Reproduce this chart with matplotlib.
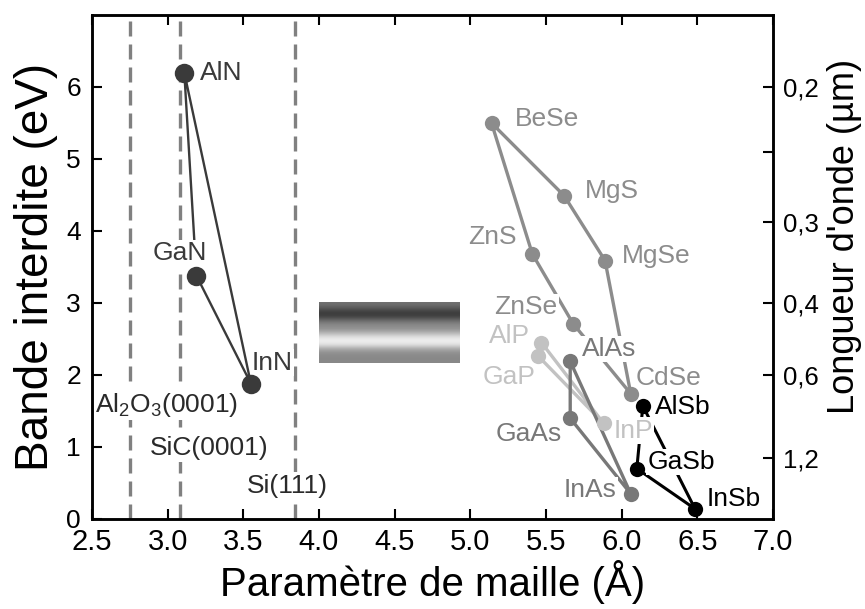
import numpy as np
import matplotlib
matplotlib.use("Agg")
import matplotlib.pyplot as plt

plt.rcParams["font.family"] = ["Liberation Sans", "DejaVu Sans"]
plt.rcParams["mathtext.fontset"] = "custom"
plt.rcParams["mathtext.rm"] = "Liberation Sans"
plt.rcParams["mathtext.it"] = "Liberation Sans:italic"

# --- data: lattice parameter (A) and band gap (eV) ---
nitride_names = ["AlN", "GaN", "InN"]
nitride_a = [3.11, 3.19, 3.55]
nitride_eg = [6.20, 3.38, 1.88]

# II-VI, listed around the outline of the polygon
ii_vi_names = ["BeSe", "MgS", "MgSe", "CdSe", "ZnSe", "ZnS"]
ii_vi_a = [5.14, 5.62, 5.89, 6.06, 5.68, 5.41]
ii_vi_eg = [5.50, 4.49, 3.59, 1.74, 2.71, 3.68]

phos_names = ["AlP", "GaP", "InP"]
phos_a = [5.47, 5.45, 5.88]
phos_eg = [2.45, 2.26, 1.33]

ars_names = ["AlAs", "GaAs", "InAs"]
ars_a = [5.66, 5.66, 6.06]
ars_eg = [2.19, 1.40, 0.35]

sb_names = ["AlSb", "GaSb", "InSb"]
sb_a = [6.14, 6.10, 6.485]
sb_eg = [1.57, 0.70, 0.14]

substrate_names = [r"Al$_2$O$_3$(0001)", "SiC(0001)", "Si(111)"]
substrate_a = [2.75, 3.08, 3.84]

x_ticks = [2.5, 3.0, 3.5, 4.0, 4.5, 5.0, 5.5, 6.0, 6.5, 7.0]
y_ticks = [0, 1, 2, 3, 4, 5, 6]
wl_labels = ["0,2", "", "0,3", "0,4", "0,6", "1,2"]
wl_eg = [6.0, 5.1, 4.13, 3.0, 2.0, 0.85]

# visible band drawn as grey levels, top to bottom
spectrum_grey = [112, 90, 58, 64, 104, 136, 144, 176, 221, 242, 224, 168, 144, 136, 136]

fig = plt.figure(figsize=(8.65, 6.09), dpi=100)
ax = fig.add_axes([92 / 865, 1 - 519 / 609, 681 / 865, 504 / 609])

# substrates
for a in substrate_a:
    ax.axvline(a, color="#808080", lw=2.4, dashes=(4.5, 2.4), zorder=1)
sub_label_xy = [(2.52, 1.59), (2.883, 0.98), (3.524, 0.465)]
for name, (x, y) in zip(substrate_names, sub_label_xy):
    ax.text(x, y, name, fontsize=19, color="#2a2a2a", ha="left", va="center", zorder=4,
            bbox=dict(boxstyle="square,pad=0.05", fc="white", ec="none"))

# spectrum band
ax.imshow(np.array(spectrum_grey, dtype=float)[:, None], cmap="gray", vmin=0, vmax=255,
          extent=[4.0, 4.93, 2.16, 3.0], aspect="auto", interpolation="bicubic", zorder=1)

groups = [
    (nitride_names, nitride_a, nitride_eg, "#3a3a3a", 14, 1.7),
    (ii_vi_names, ii_vi_a, ii_vi_eg, "#8c8c8c", 11, 2.4),
    (phos_names, phos_a, phos_eg, "#c2c2c2", 11, 2.4),
    (ars_names, ars_a, ars_eg, "#787878", 11, 2.4),
    (sb_names, sb_a, sb_eg, "#000000", 11, 2.2),
]

offsets = {
    "AlN": (11, 0, "left"), "GaN": (7.4, 16, "right"), "InN": (0.7, 15, "left"),
    "BeSe": (16.8, 2.9, "left"), "MgS": (14.9, 3.6, "left"), "ZnS": (-11.5, 12, "right"),
    "MgSe": (12, 3.6, "left"), "ZnSe": (-11.5, 12, "right"), "AlP": (-8.4, 4.8, "right"),
    "GaP": (-2.4, -14.9, "right"), "AlAs": (8.6, 8.9, "left"), "CdSe": (3.6, 11, "left"),
    "AlSb": (8.9, -0.7, "left"), "GaAs": (-6, -11.3, "right"), "InP": (7.2, -5.3, "left"),
    "GaSb": (7.7, 4.8, "left"), "InAs": (-9.9, 2.4, "right"), "InSb": (8.4, 7.2, "left"),
}

for names, a, eg, color, ms, lw in groups:
    ax.plot(a + [a[0]], eg + [eg[0]], color=color, lw=lw, zorder=2)
    ax.plot(a, eg, "o", color=color, ms=ms, mew=0, zorder=5)
    for n, x, y in zip(names, a, eg):
        dx, dy, ha = offsets[n]
        ax.annotate(n, (x, y), xytext=(dx, dy), textcoords="offset points",
                    ha=ha, va="center", fontsize=19, color=color, zorder=4,
                    bbox=dict(boxstyle="square,pad=0.05", fc="white", ec="none"))

ax.set_xlim(2.5, 7.0)
ax.set_ylim(0, 7.0)
ax.set_xticks(x_ticks)
ax.set_xticklabels([f"{v:.1f}" for v in x_ticks])
ax.set_yticks(y_ticks)
ax.tick_params(axis="x", direction="in", length=7, width=1.5, top=True, labelsize=21, pad=6.5)
ax.tick_params(axis="y", direction="in", length=7, width=1.5, right=False, labelsize=19, pad=8)
ax.set_xlabel("Paramètre de maille (Å)", fontsize=29, labelpad=3)
ax.set_ylabel("Bande interdite (eV)", fontsize=33, labelpad=6)

ax2 = ax.twinx()
ax2.set_ylim(ax.get_ylim())
ax2.set_yticks(wl_eg)
ax2.set_yticklabels(wl_labels)
ax2.tick_params(axis="y", direction="in", length=7, width=1.5, labelsize=18.5, pad=7)
ax2.set_ylabel("Longueur d'onde (µm)", fontsize=26, labelpad=6)
ax2.yaxis.label.set_y(0.56)

for s in list(ax.spines.values()) + list(ax2.spines.values()):
    s.set_linewidth(1.8)

fig.savefig("out.png", dpi=100)
